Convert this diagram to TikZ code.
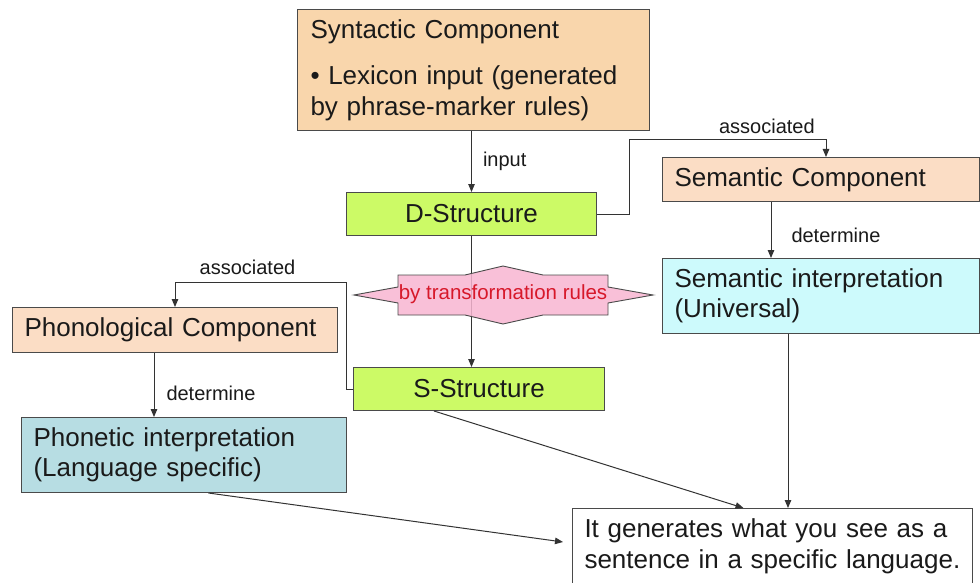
\documentclass[tikz,border=0pt]{standalone}
\usepackage{fontspec}
\setmainfont{Liberation Sans}
\usetikzlibrary{arrows.meta}

\definecolor{peachA}{HTML}{F9D6AC}
\definecolor{peachB}{HTML}{FBDDC5}
\definecolor{limegreen}{HTML}{CCFA66}
\definecolor{palecyan}{HTML}{CDFAFC}
\definecolor{paleteal}{HTML}{B7DDE3}
\definecolor{pinkfill}{HTML}{F8B6D2}
\definecolor{rulered}{HTML}{D7182A}
\definecolor{boxline}{HTML}{4A4A4A}
\definecolor{lineclr}{HTML}{333333}
\definecolor{txt}{HTML}{1A1A1A}

\tikzset{
  box/.style={draw=boxline, line width=1pt, anchor=north west,
    inner xsep=12pt, inner ysep=0pt, align=left, text=txt,
    font=\fontsize{26}{30.5}\selectfont},
  cbox/.style={box, align=center},
  lbl/.style={font=\fontsize{20}{24}\selectfont, inner sep=0pt, text=txt},
  conn/.style={draw=lineclr, line width=1pt},
  arr/.style={conn, -{Triangle[length=8pt,width=6.5pt]}},
}

\begin{document}
\begin{tikzpicture}[x=1pt,y=-1pt]
\clip (0,0) rectangle (980,583);
\fill[white] (0,0) rectangle (980,583);

% component and structure boxes
\node[box, fill=peachA, inner xsep=13pt, minimum width=352pt, text width=326pt,
      minimum height=121pt] (syn) at (297,9)
  {Syntactic Component\\[16pt]\textbullet{} Lexicon input (generated\\by phrase-marker rules)};
\node[cbox, fill=limegreen, minimum width=250pt, text width=226pt,
      minimum height=43pt] (dstruct) at (346,192) {D-Structure};
\node[cbox, fill=limegreen, minimum width=251pt, text width=227pt,
      minimum height=43pt] (sstruct) at (353,367) {S-Structure};
\node[box, fill=peachB, minimum width=317pt, text width=293pt,
      minimum height=44pt] (semcomp) at (662,157) {Semantic Component};
\node[box, fill=palecyan, minimum width=317pt, text width=293pt,
      minimum height=75pt] (seminterp) at (662,258)
  {Semantic interpretation\\(Universal)};
\node[box, fill=peachB, minimum width=325pt, text width=301pt,
      minimum height=45pt] (phon) at (12,307) {Phonological Component};
\node[box, fill=paleteal, minimum width=325pt, text width=301pt,
      minimum height=75pt] (phonetic) at (21,417)
  {Phonetic interpretation\\(Language specific)};
\node[box, fill=white, minimum width=400pt, text width=376pt,
      minimum height=76pt] (final) at (572,508)
  {It generates what you see as a\\sentence in a specific language.};

% routing points
\coordinate (cr) at (629,140);
\coordinate (xsemtop) at (826,0);
\coordinate (xsemdet) at (771,0);
\coordinate (xsemout) at (788,0);
\coordinate (cl) at (346,282);
\coordinate (xphdet) at (154,0);
\coordinate (phin) at (563,542);

% D-Structure to S-Structure, beneath the transformation shape
\draw[arr] (dstruct.south) -- (dstruct.south |- sstruct.north);

% transformation shape
\draw[draw=boxline, line width=0.9pt, fill=pinkfill, fill opacity=0.85]
  (354,295) -- (398,287) -- (398,275) -- (465,275) -- (503,266) -- (543,275)
  -- (608,275) -- (608,287) -- (653,295) -- (608,303) -- (608,315)
  -- (543,315) -- (503,324) -- (465,315) -- (398,315) -- (398,303) -- cycle;
\node[font=\fontsize{20.5}{24}\selectfont, text=rulered, inner sep=0pt]
  (rules) at (503,294) {by transformation rules};

% connectors
\draw[arr] (dstruct.north |- syn.south) --
  node[lbl, right=11pt] {input} (dstruct.north);

\draw[arr] (dstruct.east) -| (cr) --
  node[lbl, above=6pt, pos=0.7] {associated} (cr -| xsemtop) --
  (xsemtop |- semcomp.north);

\draw[arr] (xsemdet |- semcomp.south) --
  node[lbl, right=20pt, pos=0.6] {determine} (xsemdet |- seminterp.north);

\draw[arr] (sstruct.west) -| (cl) --
  node[lbl, above=7pt, pos=0.576] {associated} (cl -| phon.north) --
  (phon.north);

\draw[arr] (xphdet |- phon.south) --
  node[lbl, right=12pt, pos=0.63] {determine} (xphdet |- phonetic.north);

\draw[arr] ([xshift=24.5pt]phonetic.south) -- (phin);
\draw[arr] ([xshift=-45pt]sstruct.south) -- ([xshift=-29pt]final.north);
\draw[arr] (xsemout |- seminterp.south) -- (xsemout |- final.north);
\end{tikzpicture}
\end{document}
